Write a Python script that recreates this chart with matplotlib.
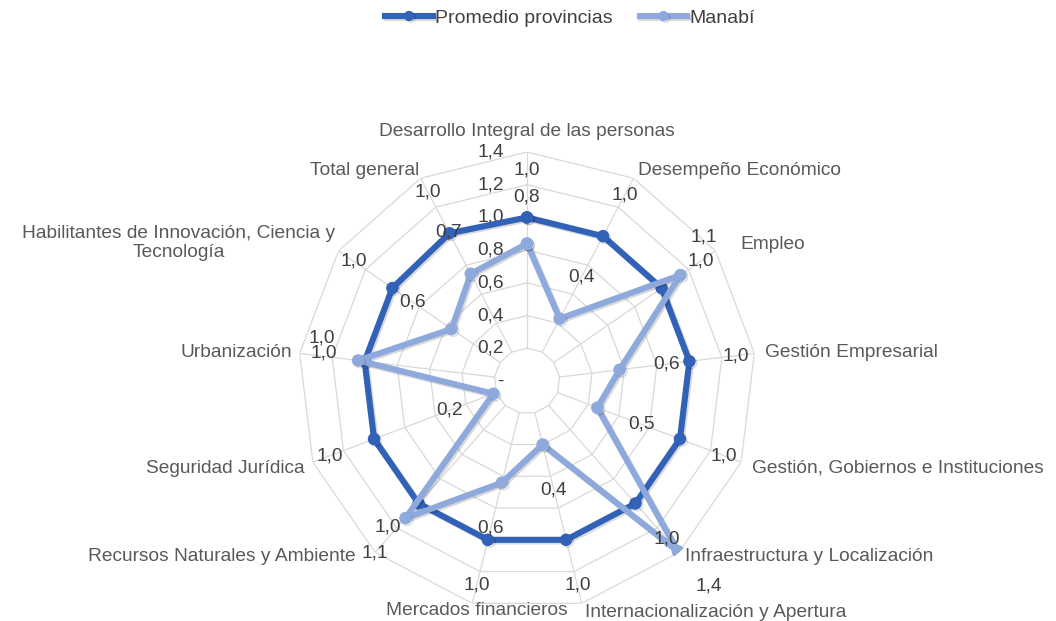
import numpy as np
import matplotlib
matplotlib.use("Agg")
import matplotlib.pyplot as plt
import matplotlib.patheffects as pe

plt.rcParams['font.family'] = ['Liberation Sans', 'DejaVu Sans']

categories = [
    "Desarrollo Integral de las personas",
    "Desempeño Económico",
    "Empleo",
    "Gestión Empresarial",
    "Gestión, Gobiernos e Instituciones",
    "Infraestructura y Localización",
    "Internacionalización y Apertura",
    "Mercados financieros",
    "Recursos Naturales y Ambiente",
    "Seguridad Jurídica",
    "Urbanización",
    "Habilitantes de Innovación, Ciencia y\nTecnología",
    "Total general",
]
promedio = [1.0, 1.0, 1.0, 1.0, 1.0, 1.0, 1.0, 1.0, 1.0, 1.0, 1.0, 1.0, 1.02]
manabi = [0.84, 0.43, 1.14, 0.57, 0.46, 1.39, 0.40, 0.64, 1.12, 0.22, 1.04, 0.56, 0.74]
series_names = ["Promedio provincias", "Manabí"]
r_ticks = [0.0, 0.2, 0.4, 0.6, 0.8, 1.0, 1.2, 1.4]

# layout of category labels: (ha, dx px, dy px) relative to outer ring vertex
label_layout = [
    ("center", 0, 21),
    ("left", 5, 8),
    ("left", 25, 6),
    ("left", 11, 1),
    ("left", 11, -6),
    ("left", 6, -4),
    ("left", 3, -9),
    ("center", 5, -7),
    ("right", -20, -4),
    ("right", -8, -6),
    ("right", -8, 1),
    ("right", -3, 8),
    ("right", -1, 8),
]
# extra nudges of data labels (series index, category index) -> (dx, dy) px
label_nudge = {(0, 10): (4, 18), (1, 10): (12, 2), (0, 8): (0, 12), (1, 2): (-15, 11)}

dark = "#3261B8"
light = "#8EA9DB"
txt = "#404040"
grid_c = "#D9D9D9"
FS = 13.8

W, H = 1056, 621
fig = plt.figure(figsize=(W / 100, H / 100), dpi=100)
cx, cy, R = 527, 381, 229
ax = fig.add_axes([(cx - R) / W, (H - cy - R) / H, 2 * R / W, 2 * R / H], projection="polar")
ax.set_theta_offset(np.pi / 2)
ax.set_theta_direction(-1)
ax.set_ylim(0, 1.4)
ax.grid(False)
ax.set_xticks([])
ax.set_yticks([])
ax.spines["polar"].set_visible(False)
ax.patch.set_alpha(0)

n = len(categories)
theta = np.arange(n) * 2 * np.pi / n
theta_c = np.append(theta, theta[0])

# polygon grid
for rv in r_ticks[1:]:
    ax.plot(theta_c, [rv] * (n + 1), color=grid_c, lw=0.9, zorder=1)
for t in theta:
    ax.plot([t, t], [r_ticks[1], r_ticks[-1]], color=grid_c, lw=0.9, zorder=1)

# radial tick labels
for rv in r_ticks:
    lab = "-" if rv == 0 else f"{rv:.1f}".replace(".", ",")
    ax.annotate(lab, xy=(0, rv), xytext=(-23, 0), textcoords="offset pixels",
                ha="right", va="center", fontsize=FS, color=txt, zorder=2)

shadow = [pe.SimpleLineShadow(offset=(1.2, -1.2), shadow_color="black", alpha=0.15), pe.Normal()]

for si, (vals, col, name) in enumerate([(promedio, dark, series_names[0]), (manabi, light, series_names[1])]):
    v = np.append(vals, vals[0])
    ax.plot(theta_c, v, color=col, lw=4.4, marker="o", markersize=8, label=name,
            solid_joinstyle="round", zorder=3, path_effects=shadow)
    for ci, (t, val) in enumerate(zip(theta, vals)):
        ang = np.pi / 2 - t
        d = 47
        ndx, ndy = label_nudge.get((si, ci), (0, 0))
        ax.annotate(f"{val:.1f}".replace(".", ","), xy=(t, val),
                    xytext=(d * np.cos(ang) + ndx, d * np.sin(ang) + ndy), textcoords="offset pixels",
                    ha="center", va="center", fontsize=FS, color=txt, zorder=5)

# category labels
for t, lab, (ha, dx, dy) in zip(theta, categories, label_layout):
    ax.annotate(lab, xy=(t, 1.4), xytext=(dx, dy), textcoords="offset pixels",
                ha=ha, va="center", fontsize=FS, color="#595959", multialignment="center",
                linespacing=1.1, annotation_clip=False)

leg = fig.legend(loc="center", bbox_to_anchor=(570 / W, 1 - 18 / H), ncol=2, frameon=False,
                 fontsize=14, handlelength=2.45, handletextpad=0.1, columnspacing=1.4,
                 markerscale=0.8)
for t in leg.get_texts():
    t.set_color(txt)

fig.savefig("out.png", dpi=100)
